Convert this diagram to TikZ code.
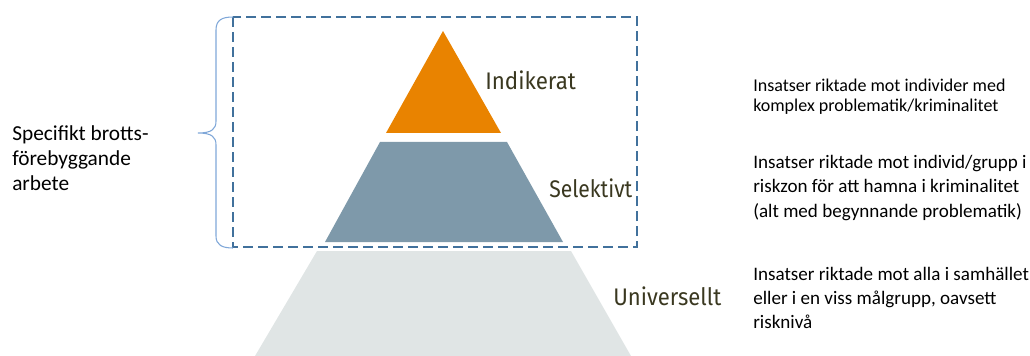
\documentclass[tikz,border=0pt]{standalone}
\usepackage{fontspec}
\setmainfont{Carlito}
\newfontfamily\lblfont{Fira Sans}
\definecolor{orangeI}{HTML}{E98300}
\definecolor{blueS}{HTML}{7E99AA}
\definecolor{greyU}{HTML}{E0E5E5}
\definecolor{dashc}{HTML}{41719C}
\definecolor{bracec}{HTML}{7FA7D8}
\definecolor{lblc}{HTML}{3A3820}
\tikzset{
  lbl/.style={inner sep=0pt, text=lblc, font=\lblfont\fontsize{18}{20}\selectfont},
  desc/.style={inner sep=0pt, align=left, font=\fontsize{14.3}{18.3}\selectfont},
  dashbox/.style={draw=dashc, line width=1.4pt, dash pattern=on 7.5pt off 3.75pt},
  bracestyle/.style={draw=bracec, line width=0.8pt}
}
\begin{document}
\begin{tikzpicture}[x=0.75pt,y=-0.75pt]
\useasboundingbox (0,0) rectangle (1030,356);
% pyramid
\fill[orangeI] (443,31) -- (501,133) -- (386,133) -- cycle;
\fill[blueS] (380,142) -- (507,142) -- (563,242) -- (325,242) -- cycle;
\fill[greyU] (317,251) -- (571,251) -- (631,356) -- (255,356) -- cycle;
% dashed frame
\draw[dashbox] (233,17) rectangle (637,247);
% brace
\draw[bracestyle] (233,17) .. controls (222,17) and (216,20) .. (216,30) -- (216,121)
  .. controls (216,129) and (212,133) .. (198,133)
  .. controls (212,133) and (216,137) .. (216,145) -- (216,236)
  .. controls (216,245) and (222,248) .. (233,248);
% level labels
\node[lbl, anchor=base west] (ind) at (485,90) {\scalebox{0.93}[1]{Indikerat}};
\node[lbl, anchor=base west] (sel) at (549,197) {\scalebox{0.88}[1]{Selektivt}};
\node[lbl, anchor=base west] (uni) at (613,305) {\scalebox{0.92}[1]{Universellt}};
% descriptions
\node[desc, font=\fontsize{13.5}{15}\selectfont, anchor=west] (d1) at (753,97)
  {Insatser riktade mot individer med\\komplex problematik/kriminalitet};
\node[desc, anchor=west] (d2) at (753,188)
  {Insatser riktade mot individ/grupp i\\riskzon för att hamna i kriminalitet\\(alt med begynnande problematik)};
\node[desc, anchor=west] (d3) at (753,298)
  {Insatser riktade mot alla i samhället\\eller i en viss målgrupp, oavsett\\risknivå};
\node[desc, font=\fontsize{16}{18.8}\selectfont, anchor=west] (spec) at (12,158)
  {Specifikt brotts-\\förebyggande\\arbete};
\end{tikzpicture}
\end{document}
